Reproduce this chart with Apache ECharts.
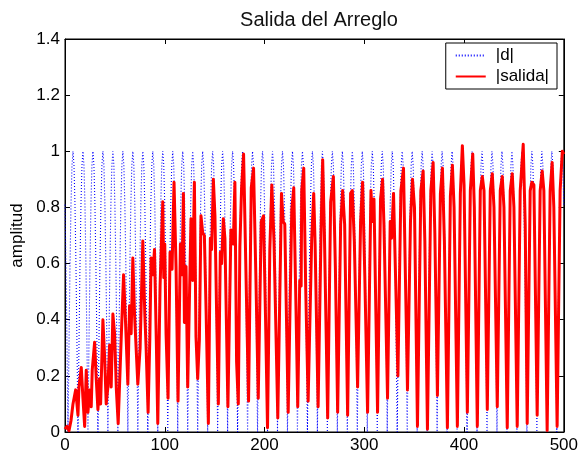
<!DOCTYPE html>
<html>
<head>
<meta charset="utf-8">
<script src="https://cdn.jsdelivr.net/npm/echarts@6/dist/echarts.min.js"></script>
<style>
  html, body { margin: 0; padding: 0; background: #fff; }
  #chart { width: 581px; height: 461px; }
</style>
</head>
<body>
<div id="chart"></div>
<script>
// |d|: one hump of the periodic reference signal (trough at n=3, 13, 23 ...)
var dHump = [0, 0.31, 0.59, 0.81, 0.95, 1, 0.95, 0.81, 0.59, 0.31];
var dFirstTrough = 3;
var nSamples = 501;

// |salida|: turning points
var salidaX = [0, 2, 4, 6, 8, 10.7, 13, 14, 16.3, 18, 19.7, 21.3, 23, 24.7, 26.3, 27.3, 29.7, 31.3, 33, 34.7,
  35.7, 38, 39.7, 41.3, 43, 44.7, 46.3, 48, 49.7, 51.5, 53.3, 56.3, 58.7, 60.7, 63, 64.7, 66.3, 68, 69.7, 73,
  75.3, 78, 80, 81.3, 83.3, 85, 86.3, 88, 89.7, 91.5, 93, 95.3, 98, 99, 100, 101.3, 103.3, 105.3, 107.3, 109.3,
  111.3, 113.3, 115.7, 117.3, 118.7, 119.7, 121.3, 123, 126.3, 128, 129.7, 131.3, 133, 134.7, 136.3, 138, 139.7, 141.5, 143.7, 145.7,
  147, 148.7, 150.3, 152, 153.7, 155.7, 157, 158.7, 160.3, 163.3, 166.3, 168.7, 170.3, 172, 173.7, 175.3, 177, 179, 180.7, 183,
  184, 186.7, 189, 191.3, 193.7, 196.7, 199, 201, 203, 205.3, 207.3, 209.5, 213.3, 217, 218.7, 220.3, 223.7, 227.3, 229.3, 231.5,
  233.3, 235.3, 236.7, 237.3, 239.3, 241.3, 243.7, 247.3, 249.3, 250.7, 253.7, 256.7, 258.3, 260, 263.3, 266.3, 269, 271, 273.3, 276.3,
  278.3, 280.3, 283.3, 286.3, 288, 290, 293.3, 296.3, 298.3, 300.5, 303.3, 306.7, 308, 309.7, 313.3, 316.3, 318.3, 319.7, 323.3, 326,
  327.3, 329.3, 331.3, 333.7, 336.7, 339.3, 341.3, 343.3, 346.3, 348.3, 350.3, 353.3, 356.7, 359, 360.7, 363.3, 366.7, 369, 370.7, 373.3,
  376.3, 378.3, 380.3, 383.3, 386.3, 388.3, 390, 393.3, 396.3, 398.3, 400, 403.3, 406.3, 408.7, 410.3, 413.3, 416.3, 418.3, 420, 423.3,
  426.3, 428.3, 430, 433.3, 436.3, 438.3, 440, 443.3, 446.3, 448.3, 450, 453.3, 456.3, 459.3, 461.3, 463.3, 466.3, 468, 470, 473.3,
  476.3, 478.3, 480, 483.3, 486.3, 488.3, 490, 493.3, 496.3, 498.5, 500];
var salidaY = [0.01, 0.02, 0.005, 0.04, 0.10, 0.15, 0.06, 0.16, 0.23, 0.12, 0.02, 0.22, 0.07, 0.15, 0.09, 0.22, 0.32, 0.19, 0.08, 0.19,
  0.10, 0.40, 0.27, 0.10, 0.16, 0.31, 0.16, 0.42, 0.35, 0.15, 0.03, 0.33, 0.56, 0.39, 0.17, 0.45, 0.35, 0.62, 0.42, 0.17,
  0.30, 0.68, 0.42, 0.30, 0.07, 0.33, 0.62, 0.56, 0.65, 0.33, 0.03, 0.52, 0.82, 0.55, 0.67, 0.35, 0.12, 0.64, 0.58, 0.89,
  0.59, 0.11, 0.67, 0.56, 0.85, 0.39, 0.59, 0.16, 0.76, 0.54, 0.89, 0.34, 0.19, 0.33, 0.77, 0.71, 0.70, 0.42, 0.03, 0.69,
  0.65, 0.90, 0.77, 0.42, 0.10, 0.64, 0.60, 0.76, 0.69, 0.09, 0.72, 0.67, 0.89, 0.25, 0.10, 0.66, 0.87, 0.99, 0.69, 0.28,
  0.11, 0.87, 0.94, 0.56, 0.12, 0.75, 0.77, 0.41, 0.015, 0.65, 0.88, 0.68, 0.05, 0.85, 0.75, 0.74, 0.07, 0.79, 0.87, 0.45,
  0.09, 0.54, 0.52, 0.86, 0.94, 0.51, 0.11, 0.69, 0.85, 0.67, 0.09, 0.72, 0.97, 0.71, 0.05, 0.82, 0.91, 0.59, 0.07, 0.74,
  0.86, 0.74, 0.06, 0.85, 0.86, 0.68, 0.16, 0.75, 0.89, 0.56, 0.07, 0.86, 0.75, 0.83, 0.07, 0.83, 0.90, 0.74, 0.12, 0.75,
  0.69, 0.85, 0.56, 0.20, 0.86, 0.94, 0.54, 0.15, 0.75, 0.90, 0.80, 0.02, 0.86, 0.93, 0.68, 0.01, 0.86, 0.96, 0.71, 0.13,
  0.85, 0.94, 0.68, 0.015, 0.84, 0.95, 0.80, 0.02, 0.85, 1.02, 0.88, 0.07, 0.86, 0.99, 0.80, 0.02, 0.86, 0.91, 0.86, 0.08,
  0.86, 0.92, 0.80, 0.09, 0.86, 0.91, 0.80, 0.015, 0.86, 0.92, 0.80, 0.02, 0.86, 1.025, 0.74, 0.03, 0.86, 0.89, 0.88, 0.06,
  0.86, 0.93, 0.86, 0.005, 0.86, 0.96, 0.80, 0.02, 0.86, 1.0, 0.99];

var xTicks = [0, 100, 200, 300, 400, 500];
var yTicks = [0, 0.2, 0.4, 0.6, 0.8, 1, 1.2, 1.4];

var dData = [];
for (var n = 0; n < nSamples; n++) {
  var k = ((n - dFirstTrough) % dHump.length + dHump.length) % dHump.length;
  dData.push([n, dHump[k]]);
}
var salidaData = salidaX.map(function (x, i) { return [x, salidaY[i]]; });

var font = "'Liberation Sans', Arial, sans-serif";

function tick() {
  return { show: true, inside: true, length: 5, lineStyle: { color: "#000", width: 1 } };
}
function line() {
  return { show: true, onZero: false, lineStyle: { color: "#000", width: 1 } };
}

var chart = echarts.init(document.getElementById("chart"), null, { renderer: "canvas" });
chart.setOption({
  backgroundColor: "#fff",
  animation: false,
  title: {
    text: "Salida del Arreglo",
    left: 314,
    textAlign: "center",
    top: 5,
    textStyle: { fontFamily: font, fontSize: 20, fontWeight: "normal", color: "#111" }
  },
  grid: {
    left: 65, right: 16, top: 39, bottom: 29,
    show: true, borderColor: "#000", borderWidth: 1, backgroundColor: "#fff"
  },
  legend: {
    orient: "vertical",
    right: 24, top: 43,
    backgroundColor: "#fff",
    borderColor: "#000", borderWidth: 1, borderRadius: 0,
    padding: [4, 8, 4, 9],
    itemWidth: 30, itemHeight: 12, itemGap: 4,
    itemStyle: { opacity: 0 },
    textStyle: { fontFamily: font, fontSize: 17, color: "#000", padding: [0, 0, 0, 5] },
    data: ["|d|", "|salida|"]
  },
  xAxis: [
    {
      type: "value", position: "bottom", min: xTicks[0], max: xTicks[xTicks.length - 1], interval: 100,
      axisLine: line(), axisTick: tick(), splitLine: { show: false },
      axisLabel: { fontFamily: font, fontSize: 17, color: "#000", margin: 5 }
    },
    {
      type: "value", position: "top", min: xTicks[0], max: xTicks[xTicks.length - 1], interval: 100,
      axisLine: line(), axisTick: tick(), splitLine: { show: false }, axisLabel: { show: false }
    }
  ],
  yAxis: [
    {
      type: "value", position: "left", min: yTicks[0], max: yTicks[yTicks.length - 1], interval: 0.2,
      name: "amplitud", nameLocation: "middle", nameGap: 38, nameRotate: 90,
      nameTextStyle: { fontFamily: font, fontSize: 17, color: "#000" },
      axisLine: line(), axisTick: tick(), splitLine: { show: false },
      axisLabel: { fontFamily: font, fontSize: 17, color: "#000", margin: 5 }
    },
    {
      type: "value", position: "right", min: yTicks[0], max: yTicks[yTicks.length - 1], interval: 0.2,
      axisLine: line(), axisTick: tick(), splitLine: { show: false }, axisLabel: { show: false }
    }
  ],
  series: [
    {
      name: "|d|", type: "line", data: dData, showSymbol: false, symbol: "none",
      sampling: null, silent: true,
      lineStyle: { color: "#0000ff", width: 1.1, type: [1, 2], opacity: 1 },
      itemStyle: { color: "#0000ff" }
    },
    {
      name: "|salida|", type: "line", data: salidaData, showSymbol: false, symbol: "none",
      silent: true,
      lineStyle: { color: "#ff0000", width: 3, join: "round" },
      itemStyle: { color: "#ff0000" }
    }
  ]
});
</script>
</body>
</html>
